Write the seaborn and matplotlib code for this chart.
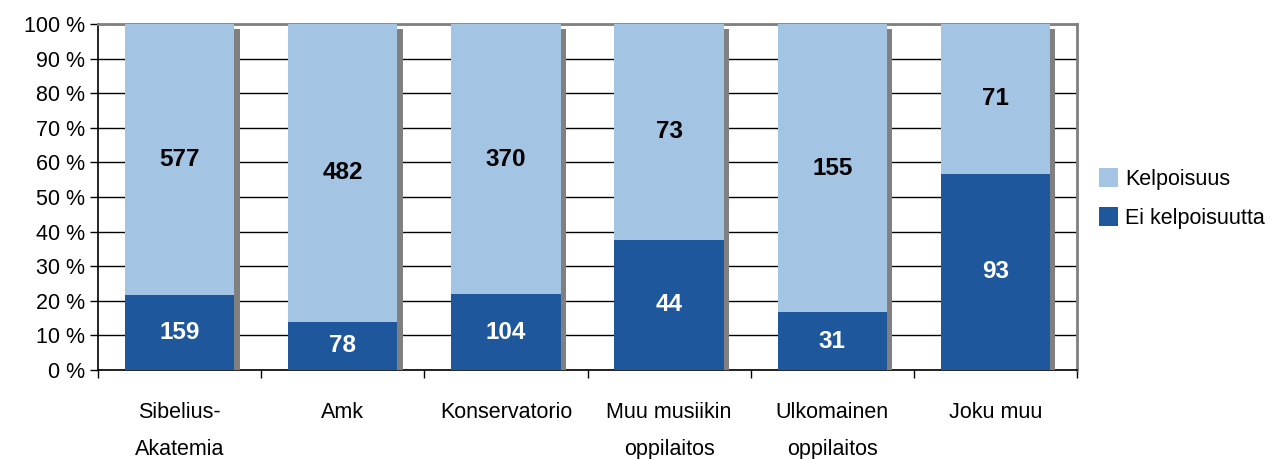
import matplotlib
matplotlib.use("Agg")
from matplotlib import pyplot as plt
from matplotlib import patheffects as pe
import seaborn as sns
import pandas as pd
import numpy as np

categories = ["Sibelius-\nAkatemia", "Amk", "Konservatorio",
              "Muu musiikin\noppilaitos", "Ulkomainen\noppilaitos", "Joku muu"]
kelpoisuus = [577, 482, 370, 73, 155, 71]
ei_kelpoisuutta = [159, 78, 104, 44, 31, 93]

light = "#A4C4E3"
dark = "#1F579C"

sns.set_theme(style="white")
plt.rcParams["font.family"] = ["Liberation Sans", "DejaVu Sans"]
plt.rcParams["text.color"] = "black"

data = pd.DataFrame({"cat": categories, "kelp": kelpoisuus, "ei": ei_kelpoisuutta})
data["total"] = data["kelp"] + data["ei"]
data["pct_ei"] = data["ei"] / data["total"] * 100
data["pct_all"] = 100.0

fig = plt.figure(figsize=(12.7, 4.59), dpi=100)
ax = fig.add_axes([98 / 1270, 1 - 370 / 459, (1077 - 98) / 1270, (370 - 24) / 459])

sns.barplot(data=data, x="cat", y="pct_all", color=light, width=0.67,
            saturation=1, ax=ax, label="Kelpoisuus", zorder=3, linewidth=0)
sns.barplot(data=data, x="cat", y="pct_ei", color=dark, width=0.67,
            saturation=1, ax=ax, label="Ei kelpoisuutta", zorder=4, linewidth=0)

for i, row in data.iterrows():
    ax.text(i, (row["pct_ei"] + 100) / 2, str(row["kelp"]), ha="center", va="center",
            fontsize=17.5, fontweight="bold", color="black", zorder=5)
    ax.text(i, row["pct_ei"] / 2, str(row["ei"]), ha="center", va="center",
            fontsize=17.5, fontweight="bold", color="white", zorder=5)

ax.set_ylim(0, 100)
ax.set_xlim(-0.5, len(categories) - 0.5)
ax.set_yticks(np.arange(0, 101, 10))
ax.set_yticklabels([f"{v} %" for v in range(0, 101, 10)], fontsize=15.5)
ax.yaxis.grid(True, color="black", linewidth=1.0, zorder=0)
ax.set_axisbelow(True)
ax.tick_params(axis="y", length=6, width=1, color="black", left=True, pad=3,
               labelcolor="black")

ax.set_xticks(range(len(categories)))
ax.set_xticklabels(categories, fontsize=15.5, linespacing=2.0)
ax.tick_params(axis="x", which="major", length=0, pad=23, labelcolor="black")
ax.set_xticks(np.arange(-0.5, len(categories), 1), minor=True)
ax.tick_params(axis="x", which="minor", length=6, width=1, color="black", bottom=True)
ax.set_xlabel("")
ax.set_ylabel("")

for s in ["left", "bottom"]:
    ax.spines[s].set_color("black")
    ax.spines[s].set_linewidth(1.2)
for s in ["top", "right"]:
    ax.spines[s].set_color("#808080")
    ax.spines[s].set_linewidth(2)

ax.legend(loc="center left", bbox_to_anchor=(1099 / 1270, 1 - 198.5 / 459),
          bbox_transform=fig.transFigure, frameon=False, fontsize=15.5,
          handlelength=0.9, handleheight=0.95, handletextpad=0.3,
          labelspacing=0.8, borderpad=0, borderaxespad=0)

# gray drop shadow on the full bars (added after the legend so handles stay plain)
for p in ax.patches[:len(categories)]:
    p.set_path_effects([pe.SimplePatchShadow(offset=(3.8, -3.8), shadow_rgbFace="#808080", alpha=1.0),
                        pe.Normal()])

fig.savefig("out.png", dpi=100)
